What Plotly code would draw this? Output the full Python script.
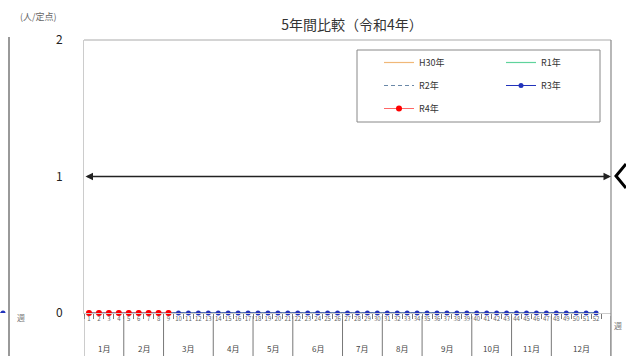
import plotly.graph_objects as go

# ---------------- data ----------------
week_labels = [str(i) for i in range(1, 54)]           # 53 week slots
h30_vals = [0] * 52
r1_vals = [0] * 52
r2_vals = [0] * 52
r3_vals = [0] * 52
r4_vals = [0] * 9
months = ["1月", "2月", "3月", "4月", "5月", "6月", "7月", "8月", "9月", "10月", "11月", "12月"]
weeks_per_month = [4, 4, 5, 4, 4, 5, 4, 4, 5, 4, 4, 6]
prev_weeks = [51, 52]          # tail of the neighbouring (cut-off) chart
prev_vals = [0, 0]

W, H = 626, 356
L, R, T, B = 0, 15, 40, 43
PW, PH = W - L - R, H - T - B


def px(x):
    return (x - L) / PW


def py(y):
    return (H - B - y) / PH


font = "Noto Sans CJK JP, Noto Sans, sans-serif"
fig = go.Figure()

series = [
    ("H30年", h30_vals, dict(color="#f0b878", width=1.2), None, "legend"),
    ("R1年", r1_vals, dict(color="#5fd39c", width=1.2), None, "legend2"),
    ("R2年", r2_vals, dict(color="#6a88a8", width=1.2, dash="4px,3px"), None, "legend"),
    ("R3年", r3_vals, dict(color="#2233bb", width=1), dict(color="#2233bb", size=5), "legend2"),
    ("R4年", r4_vals, dict(color="#ff6666", width=1), dict(color="#ff0000", size=6), "legend"),
]
for name, vals, line, marker, lg in series:
    fig.add_trace(go.Scatter(
        x=week_labels[:len(vals)], y=vals, name=name,
        mode="lines+markers" if marker else "lines",
        line=line, marker=marker, legend=lg, legendgroup=name,
        cliponaxis=False, xaxis="x", yaxis="y",
    ))

# neighbouring chart fragment on the far left
fig.add_trace(go.Scatter(
    x=prev_weeks, y=prev_vals, mode="lines+markers", showlegend=False,
    line=dict(color="#2233bb", width=1), marker=dict(color="#2233bb", size=5),
    xaxis="x2", yaxis="y", cliponaxis=True,
))

shapes = []
annotations = []

# month separators + labels
start = -0.5
for m, n in zip(months, weeks_per_month):
    end = start + n
    annotations.append(dict(x=(start + end) / 2, y=py(348), xref="x", yref="paper",
                            xanchor="center", yanchor="middle",
                            text=m, showarrow=False, font=dict(size=8, color="#444", family=font)))
    shapes.append(dict(type="line", xref="x", yref="paper", x0=end, x1=end,
                       y0=py(316), y1=py(356), line=dict(color="#777", width=1)))
    start = end
shapes.append(dict(type="line", xref="x", yref="paper", x0=-0.5, x1=-0.5,
                   y0=py(316), y1=py(356), line=dict(color="#999", width=1)))

# frame
shapes.append(dict(type="line", xref="paper", yref="paper", x0=px(84), x1=px(611),
                   y0=1, y1=1, line=dict(color="#aaa", width=1)))
shapes.append(dict(type="line", xref="paper", yref="paper", x0=px(611), x1=px(611),
                   y0=1, y1=py(356), line=dict(color="#888", width=1.2)))
shapes.append(dict(type="line", xref="paper", yref="paper", x0=px(9), x1=px(9),
                   y0=py(37), y1=py(356), line=dict(color="#555", width=1.2)))
# legend box
shapes.append(dict(type="rect", xref="paper", yref="paper", x0=px(357), x1=px(600),
                   y0=py(50), y1=py(122), line=dict(color="#888", width=1), fillcolor="rgba(0,0,0,0)"))
# chevron on the right
shapes.append(dict(type="path", xref="paper", yref="paper",
                   path=f"M {px(626)} {py(164)} L {px(616)} {py(176)} L {px(626)} {py(188)}",
                   line=dict(color="#000", width=3)))

# double arrow at y = 1
annotations.append(dict(x=52.5, y=1, ax=-0.5, ay=1, xref="x", yref="y", axref="x", ayref="y",
                        text="", showarrow=True, arrowhead=2, arrowside="end+start",
                        arrowsize=1, arrowwidth=1.5, arrowcolor="#222"))
annotations.append(dict(x=px(38), y=py(16), xref="paper", yref="paper", text="(人/定点)",
                        xanchor="center", yanchor="middle",
                        showarrow=False, font=dict(size=9, color="#666", family=font)))
annotations.append(dict(x=px(618), y=py(325), xref="paper", yref="paper", text="週",
                        xanchor="center", yanchor="middle",
                        showarrow=False, font=dict(size=8, color="#777", family=font)))
annotations.append(dict(x=px(21), y=py(317), xref="paper", yref="paper", text="週",
                        xanchor="center", yanchor="middle",
                        showarrow=False, font=dict(size=8, color="#777", family=font)))

fig.update_layout(
    width=W, height=H, margin=dict(l=L, r=R, t=T, b=B),
    paper_bgcolor="white", plot_bgcolor="white",
    font=dict(family=font, color="#222"),
    title=dict(text="5年間比較（令和4年）", x=px(352), xref="paper", xanchor="center",
               y=1 - 25 / H, yanchor="middle", font=dict(size=14, color="#333", family=font)),
    xaxis=dict(type="category", domain=[px(84), 1], range=[-0.5, 52.5],
               tickvals=week_labels, ticktext=week_labels, tickangle=0,
               tickson="boundaries", ticks="outside", ticklen=5, tickcolor="#777",
               tickfont=dict(size=6, color="#666"), showgrid=False, zeroline=False,
               showline=True, linecolor="#ccc", fixedrange=True),
    xaxis2=dict(domain=[0, px(9)], range=[51.7, 52.6], anchor="y", visible=False),
    yaxis=dict(range=[0, 2], tickvals=[0, 1, 2], showgrid=False, zeroline=False,
               showline=True, linecolor="#ccc", ticks="", ticklabelstandoff=18,
               tickfont=dict(size=12, color="#222"), anchor="x"),
    legend=dict(x=px(379), y=py(48), xanchor="left", yanchor="top", bgcolor="rgba(0,0,0,0)",
                font=dict(size=9, color="#333", family=font), tracegroupgap=4, itemwidth=30),
    legend2=dict(x=px(501), y=py(48), xanchor="left", yanchor="top", bgcolor="rgba(0,0,0,0)",
                 font=dict(size=9, color="#333", family=font), tracegroupgap=4, itemwidth=30),
    shapes=shapes, annotations=annotations, showlegend=True,
)

fig.write_html("out.html")
